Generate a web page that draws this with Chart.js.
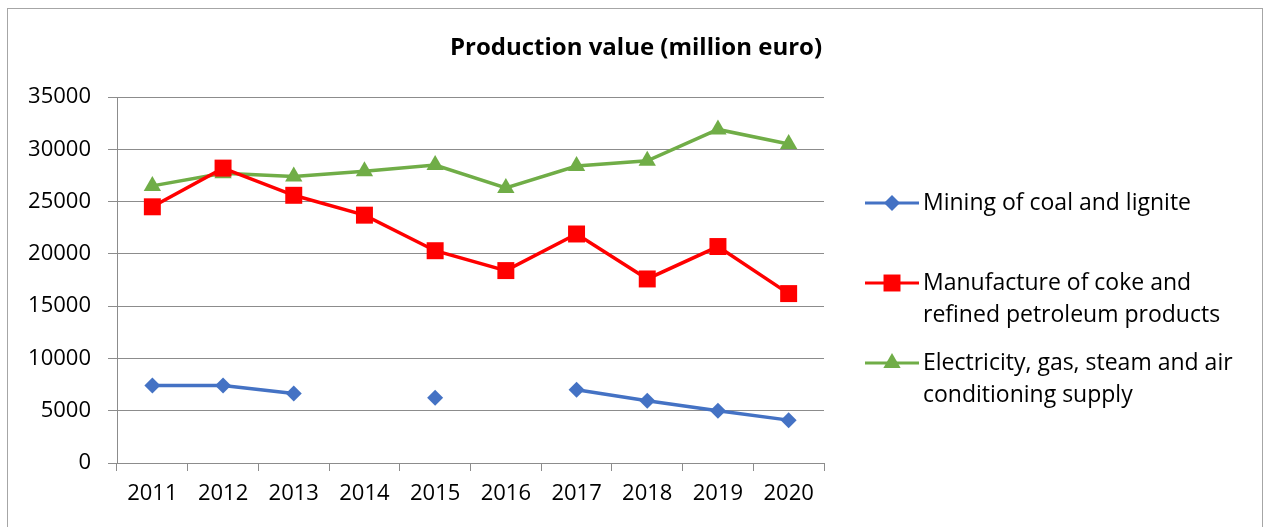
<!DOCTYPE html>
<html>
<head>
<meta charset="utf-8">
<script src="https://cdn.jsdelivr.net/npm/chart.js@4/dist/chart.umd.min.js"></script>
<style>
  body { margin: 0; background: #fff; }
  #wrap { width: 1266px; height: 527px; position: relative; }
</style>
</head>
<body>
<div id="wrap"><canvas id="grafico"></canvas></div>
<script>
const anos = ['2011', '2012', '2013', '2014', '2015', '2016', '2017', '2018', '2019', '2020'];
const mineracao = [7400, 7400, 6650, null, 6250, null, 7000, 5950, 5000, 4100];
const petroleo = [24500, 28200, 25600, 23700, 20300, 18400, 21900, 17600, 20700, 16200];
const eletricidade = [26500, 27700, 27400, 27900, 28500, 26300, 28400, 28900, 31900, 30500];
const nomes = [
    ['Mining of coal and lignite'],
    ['Manufacture of coke and', 'refined petroleum products'],
    ['Electricity, gas, steam and air', 'conditioning supply']
];
const titulo = 'Production value (million euro)';
const FONTE = '"Open Sans", "Liberation Sans", sans-serif';

const cores = ['#4472C4', '#FF0000', '#70AD47'];
const estilos = ['rectRot', 'rect', 'triangle'];
const raios = [8, 12, 10];

function marcador(ctx, tipo, x, y, r, cor) {
    ctx.save();
    ctx.fillStyle = cor;
    ctx.beginPath();
    if (tipo === 'rectRot') {
        ctx.moveTo(x, y - r); ctx.lineTo(x + r, y); ctx.lineTo(x, y + r); ctx.lineTo(x - r, y);
    } else if (tipo === 'rect') {
        const s = r * Math.SQRT1_2;
        ctx.rect(x - s, y - s, 2 * s, 2 * s);
    } else {
        const w = r * Math.sqrt(3) / 2;
        ctx.moveTo(x, y - r); ctx.lineTo(x + w, y + r / 2); ctx.lineTo(x - w, y + r / 2);
    }
    ctx.closePath();
    ctx.fill();
    ctx.restore();
}

// titulo, legenda e moldura desenhados a mao
const extras = {
    id: 'extras',
    afterDraw(chart) {
        const ctx = chart.ctx;
        ctx.save();
        ctx.strokeStyle = '#a6a6a6';
        ctx.lineWidth = 1;
        ctx.strokeRect(7.5, 8.5, 1255, 530);

        ctx.fillStyle = '#000';
        ctx.font = 'bold 24px ' + FONTE;
        ctx.textAlign = 'center';
        ctx.textBaseline = 'middle';
        ctx.fillText(titulo, 636, 48);

        const linhasY = [203, 283, 363];
        ctx.font = '23px ' + FONTE;
        ctx.textAlign = 'left';
        nomes.forEach((n, i) => {
            const y = linhasY[i];
            ctx.strokeStyle = cores[i];
            ctx.lineWidth = 3;
            ctx.beginPath(); ctx.moveTo(865, y); ctx.lineTo(919, y); ctx.stroke();
            marcador(ctx, estilos[i], 892, y, raios[i], cores[i]);
            ctx.fillStyle = '#000';
            n.forEach((t, k) => ctx.fillText(t, 923, y + k * 32));
        });
        ctx.restore();
    }
};

const series = [mineracao, petroleo, eletricidade];

new Chart(document.getElementById('grafico'), {
    type: 'line',
    data: {
        labels: anos,
        datasets: series.map((d, i) => ({
            label: nomes[i].join(' '),
            data: d,
            borderColor: cores[i],
            backgroundColor: cores[i],
            borderWidth: 3.5,
            pointStyle: estilos[i],
            pointRadius: raios[i],
            pointHoverRadius: raios[i],
            pointBorderWidth: 0,
            spanGaps: false,
            tension: 0
        }))
    },
    options: {
        responsive: true,
        maintainAspectRatio: false,
        animation: false,
        layout: { padding: { top: 97, right: 442, left: 0, bottom: 0 } },
        plugins: { legend: { display: false }, title: { display: false }, tooltip: { enabled: false } },
        scales: {
            x: {
                offset: true,
                grid: { offset: true, drawOnChartArea: false, drawTicks: true, tickLength: 8, color: '#8c8c8c' },
                border: { color: '#8c8c8c' },
                ticks: { color: '#000', font: { family: FONTE, size: 22 }, padding: 10, maxRotation: 0 },
                afterFit(s) { s.height = 527 - 463; }
            },
            y: {
                min: 0, max: 35000,
                ticks: { stepSize: 5000, color: '#000', font: { family: FONTE, size: 22 }, padding: 17,
                         callback: v => String(v) },
                grid: { color: '#8c8c8c', tickLength: 9 },
                border: { color: '#8c8c8c' },
                afterFit(s) { s.width = 117; }
            }
        }
    },
    plugins: [extras]
});
</script>
</body>
</html>
